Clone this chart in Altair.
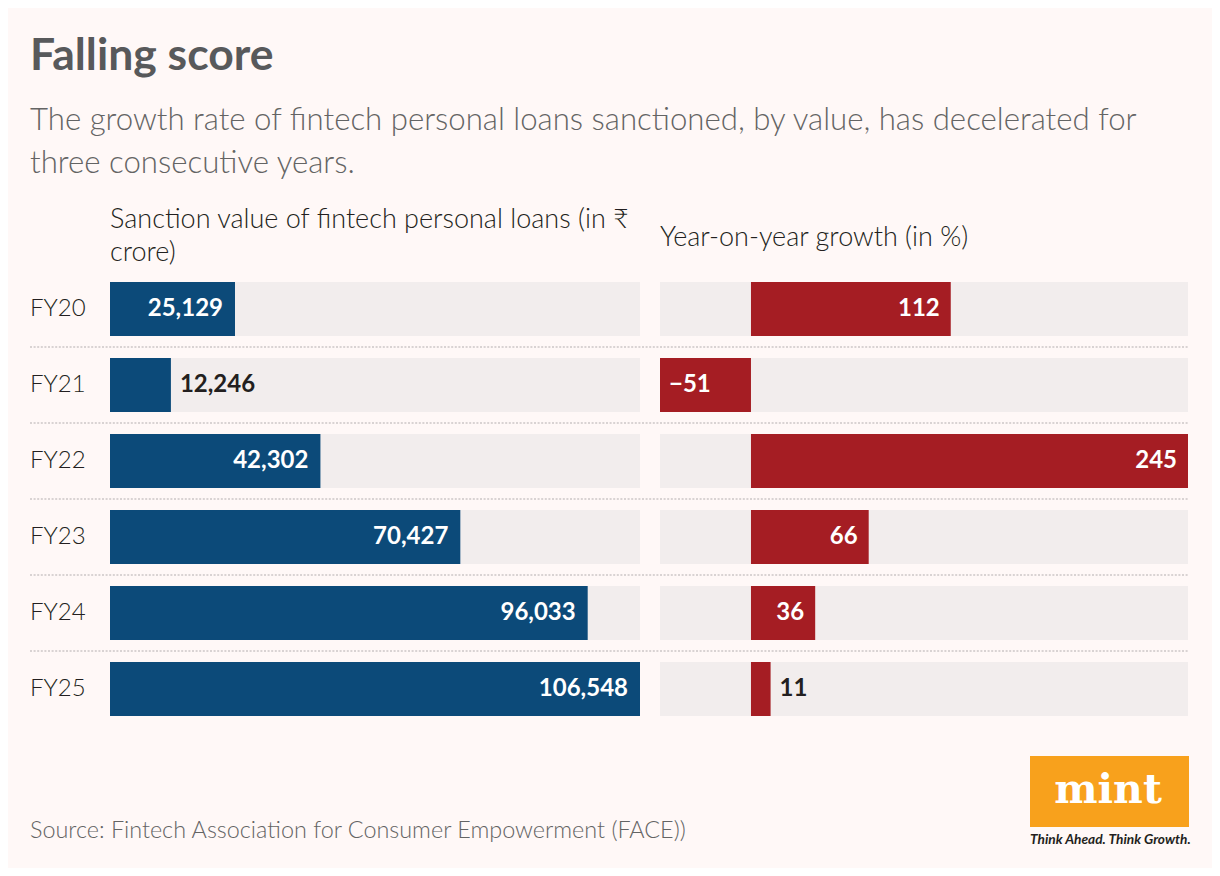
import altair as alt
import pandas as pd

# ---------------- data ----------------
years = ["FY20", "FY21", "FY22", "FY23", "FY24", "FY25"]
sanction_value = [25129, 12246, 42302, 70427, 96033, 106548]
yoy_growth = [112, -51, 245, 66, 36, 11]

TITLE = "Falling score"
SUBTITLE = [
    "The growth rate of fintech personal loans sanctioned, by value, has decelerated for",
    "three consecutive years.",
]
LEFT_HEADER = ["Sanction value of fintech personal loans (in \u20b9", "crore)"]
RIGHT_HEADER = "Year-on-year growth (in %)"
SOURCE = "Source: Fintech Association for Consumer Empowerment (FACE))"

df = pd.DataFrame({"year": years, "value": sanction_value, "growth": yoy_growth})

# ---------------- style ----------------
FONT = "Lato"
BLUE = "#0c4a79"
RED = "#a51d23"
TRACK = "#f2eded"
BG = "#fff8f7"
DARK = "#231f20"
GREY = "#646464"
LABEL_SIZE = 24

yscale = alt.Scale(domain=years, range=[263, 719], paddingInner=22 / 76, paddingOuter=11 / 76)
yenc = alt.Y("year:N", scale=yscale, axis=None)

xl = alt.Scale(domain=[0, max(sanction_value)], range=[102, 632], nice=False, zero=True)
xr = alt.Scale(domain=[min(yoy_growth), max(yoy_growth)], range=[652, 1180], nice=False)

base = alt.Chart(df)

# ---------- left panel ----------
track_l = base.mark_bar(color=TRACK).encode(
    x=alt.XDatum(datum=0, type="quantitative", scale=xl, axis=None),
    x2=alt.X2Datum(datum=max(sanction_value)),
    y=yenc,
)
bar_l = base.mark_bar(color=BLUE).encode(
    x=alt.X("value:Q", scale=xl, axis=None), y=yenc
)
txt_kw = dict(font=FONT, fontSize=LABEL_SIZE, fontWeight="bold", baseline="middle")
in_l = base.transform_filter("datum.value >= 20000").mark_text(
    align="right", dx=-12, color="white", **txt_kw
).encode(x=alt.X("value:Q", scale=xl, axis=None), y=yenc,
         text=alt.Text("value:Q", format=","))
out_l = base.transform_filter("datum.value < 20000").mark_text(
    align="left", dx=9, color=DARK, **txt_kw
).encode(x=alt.X("value:Q", scale=xl, axis=None), y=yenc,
         text=alt.Text("value:Q", format=","))
left = alt.layer(track_l, bar_l, in_l, out_l)

# ---------- right panel ----------
track_r = base.mark_bar(color=TRACK).encode(
    x=alt.XDatum(datum=min(yoy_growth), type="quantitative", scale=xr, axis=None),
    x2=alt.X2Datum(datum=max(yoy_growth)),
    y=yenc,
)
bar_r = base.mark_bar(color=RED).encode(
    x=alt.X("growth:Q", scale=xr, axis=None), y=yenc
)
in_r = base.transform_filter("datum.growth >= 20").mark_text(
    align="right", dx=-11, color="white", **txt_kw
).encode(x=alt.X("growth:Q", scale=xr, axis=None), y=yenc,
         text=alt.Text("growth:Q", format="d"))
neg_r = base.transform_filter("datum.growth < 0").mark_text(
    align="left", dx=9, color="white", **txt_kw
).encode(x=alt.X("growth:Q", scale=xr, axis=None), y=yenc,
         text=alt.Text("growth:Q", format="d"))
out_r = base.transform_filter("datum.growth >= 0 && datum.growth < 20").mark_text(
    align="left", dx=9, color=DARK, **txt_kw
).encode(x=alt.X("growth:Q", scale=xr, axis=None), y=yenc,
         text=alt.Text("growth:Q", format="d"))
right = alt.layer(track_r, bar_r, in_r, neg_r, out_r)

# ---------- row labels & separators ----------
row_labels = base.mark_text(
    align="left", baseline="middle", font=FONT, fontSize=24, color=DARK, fontWeight=300
).encode(x=alt.value(22), y=yenc, text="year:N")

separators = base.transform_filter(
    alt.FieldOneOfPredicate(field="year", oneOf=years[1:])
).mark_rule(color="#d9d3d3", strokeWidth=2, strokeDash=[2, 1.6], yOffset=-11).encode(
    y=alt.Y("year:N", scale=yscale, axis=None, bandPosition=0),
    x=alt.value(22), x2=alt.value(1180),
)


def label(text, x, y, size, color, weight="normal", font=FONT, style="normal", align="left"):
    return alt.Chart(pd.DataFrame({"t": [text]})).mark_text(
        align=align, baseline="alphabetic", font=font, fontSize=size, color=color,
        fontWeight=weight, fontStyle=style,
    ).encode(text="t:N", x=alt.value(x), y=alt.value(y))


texts = [
    label(TITLE, 22, 62, 44.5, "#58595b", weight="bold"),
    label(SUBTITLE[0], 22, 122, 31.2, GREY, weight=300),
    label(SUBTITLE[1], 22, 165, 31.2, GREY, weight=300),
    label(LEFT_HEADER[0], 102, 220, 27, DARK, weight=300),
    label(LEFT_HEADER[1], 102, 253, 27, DARK, weight=300),
    label(RIGHT_HEADER, 652, 238, 27, DARK, weight=300),
    label(SOURCE, 22, 830, 23.4, GREY, weight=300),
]

logo_box = alt.Chart(pd.DataFrame({"t": ["mint"]})).mark_rect(color="#f8a11c").encode(
    x=alt.value(1022), x2=alt.value(1181), y=alt.value(748), y2=alt.value(819)
)
logo = [
    logo_box,
    label("mint", 1100, 795, 41, "white", weight="bold", font="DejaVu Serif", align="center"),
    label("Think Ahead. Think Growth.", 1022, 836, 13.7, DARK, weight="bold", style="italic"),
]

chart = alt.layer(
    separators, row_labels, *texts, *logo, left, right
).resolve_scale(x="independent").properties(
    width=1204, height=860, autosize=alt.AutoSizeParams(type="none"), padding=0,
    background=BG,
).configure_view(stroke=None)

chart.save("out.html", embed_options={"renderer": "svg", "actions": False})
